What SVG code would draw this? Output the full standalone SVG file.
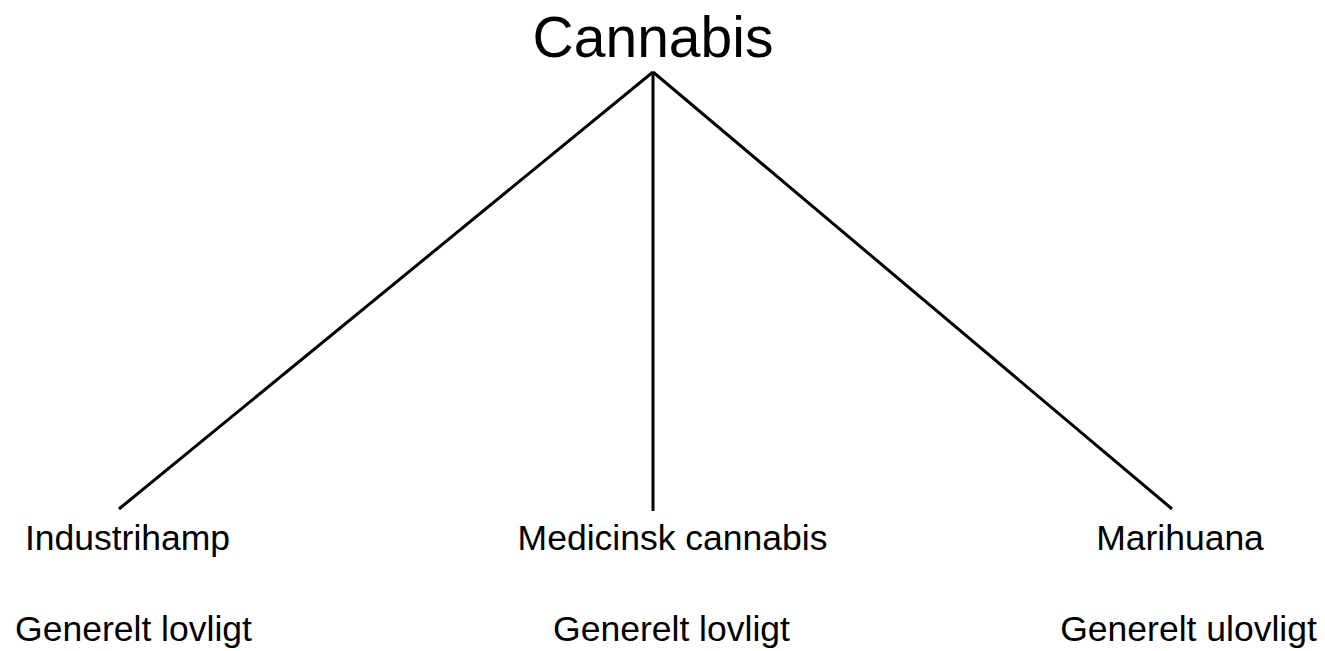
<svg xmlns="http://www.w3.org/2000/svg" width="1325" height="651" viewBox="0 0 1325 651">
<style>
text{font-family:"Liberation Sans",Arial,sans-serif;fill:#000;text-anchor:middle}
.t{font-size:35.5px}
.root{font-size:57px}
.c{stroke:#000;stroke-width:3;fill:none}
</style>
<rect width="1325" height="651" fill="#fff"/>
<g id="connectors">
<line class="c" x1="653" y1="72" x2="119" y2="509"/>
<line class="c" x1="653" y1="72" x2="653" y2="511"/>
<line class="c" x1="653" y1="72" x2="1172" y2="509"/>
</g>
<g id="cannabis"><text class="root" x="653" y="57">Cannabis</text></g>
<g id="industrihamp"><text class="t" x="127.5" y="550">Industrihamp</text><text class="t" x="133.5" y="641">Generelt lovligt</text></g>
<g id="medicinsk"><text class="t" x="672.5" y="550">Medicinsk cannabis</text><text class="t" x="671.5" y="641">Generelt lovligt</text></g>
<g id="marihuana"><text class="t" x="1180" y="550">Marihuana</text><text class="t" x="1188.5" y="641">Generelt ulovligt</text></g>
</svg>
